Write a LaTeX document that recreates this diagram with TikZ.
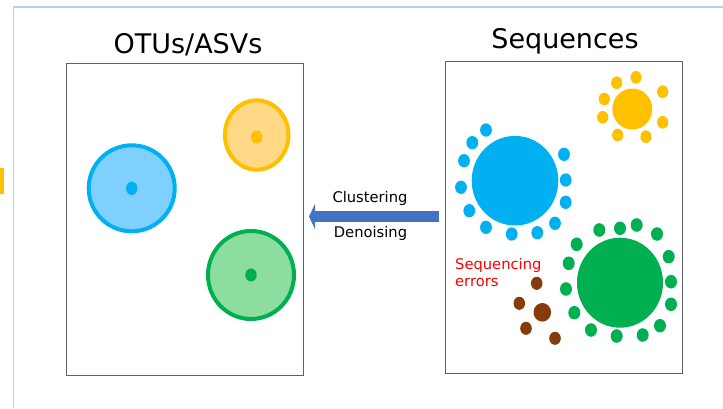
\documentclass[tikz,border=0pt]{standalone}
\usepackage{fontspec}
\setmainfont{DejaVu Sans}
\usetikzlibrary{arrows.meta}
\definecolor{frameblue}{HTML}{A9D4EE}
\definecolor{tabyellow}{HTML}{FFC000}
\definecolor{boxgray}{HTML}{606060}
\definecolor{cblue}{HTML}{00B0F0}
\definecolor{cblueL}{HTML}{80D0FF}
\definecolor{cyel}{HTML}{FFC000}
\definecolor{cyelL}{HTML}{FFD985}
\definecolor{cgreen}{HTML}{00B050}
\definecolor{cgreenL}{HTML}{8EDDA0}
\definecolor{cbrown}{HTML}{843C0C}
\definecolor{arrowblue}{HTML}{4472C4}
\tikzset{
  panel/.style={draw=boxgray, line width=1pt, minimum width=237pt, minimum height=312pt, inner sep=0pt},
  title/.style={font=\fontsize{27}{32}\selectfont, anchor=base, inner sep=0pt},
  lbl/.style={font=\fontsize{14.7}{17}\selectfont, anchor=base, inner sep=0pt},
  errlbl/.style={font=\fontsize{14.7}{16.7}\selectfont, text=red, align=left, anchor=north west, inner sep=0pt},
}
\newcommand{\dotsat}[3]{\foreach \p in {#3} {\fill[#1] \p ellipse [x radius=#2, y radius=#2*1.13];}}
\begin{document}
\begin{tikzpicture}[x=1pt,y=-1pt]
\useasboundingbox (0,0) rectangle (723,408);
% slide frame
\draw[frameblue, line width=1.5pt] (13.3,408) -- (13.3,7) -- (723,7);
\fill[tabyellow] (0,168) rectangle (4,194);

% titles
\node[title] (tL) at (188,53) {OTUs/ASVs};
\node[title] (tR) at (565,48) {Sequences};

% panels
\node[panel] (L) at (184.5,219) {};
\node[panel] (R) at (564,217) {};

% left clusters
\draw[cblue, fill=cblueL, line width=4pt] (131.7,188.3) ellipse [x radius=43, y radius=43];
\fill[cblue] (131.7,188.3) ellipse [x radius=5.7, y radius=6.7];
\draw[cyel, fill=cyelL, line width=4pt] (256.7,135) ellipse [x radius=31.8, y radius=34.7];
\fill[cyel] (256.7,137) ellipse [x radius=5.7, y radius=6.5];
\draw[cgreen, fill=cgreenL, line width=4pt] (251,275) ellipse [x radius=43, y radius=44];
\fill[cgreen] (251,275) ellipse [x radius=5.7, y radius=6.5];

% right: sequences
\fill[cblue] (515,180.7) ellipse [x radius=43.3, y radius=44.8];
\dotsat{cblue}{5.9}{(486,130),(472.3,142.7),(464,160.7),(461,187.3),(469.3,210.7),(486,227.3),(511.7,234),(537.3,232.7),(555,223.3),(565.7,202.3),(565.7,180),(564,154.3)}
\fill[cyel] (632.3,109) ellipse [x radius=20, y radius=20.5];
\dotsat{cyel}{5.6}{(636,77.3),(616.7,82.7),(604.3,99),(602.7,117.3),(617.7,135),(646,136.7),(662.7,122.3),(662.7,91.7)}
\fill[cgreen] (620,282.7) ellipse [x radius=43, y radius=45];
\dotsat{cgreen}{6}{(599.3,230),(620,228.3),(636.7,225),(657,234),(668.7,256.7),(671,281.7),(671,304.3),(660,325.7),(642.7,335),(616.7,336),(591,330),(574.3,312.7),(566,289),(568.7,263.3),(576.7,244.3)}
\dotsat{cbrown}{5.8}{(536.7,283.3),(519.3,303.3),(526,328.3),(555,338.3)}
\fill[cbrown] (542.3,312.3) ellipse [x radius=8.8, y radius=9.3];
\node[errlbl] (err) at (455,258) {Sequencing\\errors};

% arrow
\coordinate (aS) at (439,216.5);
\coordinate (aE) at (309,216.5);
\draw[arrowblue, line width=11.6pt, -{Triangle[length=6pt, width=25pt]}] (aS) -- (aE);
\node[lbl] (clu) at (370,202.7) {Clustering};
\node[lbl] (den) at (370.5,237.3) {Denoising};
\end{tikzpicture}
\end{document}
